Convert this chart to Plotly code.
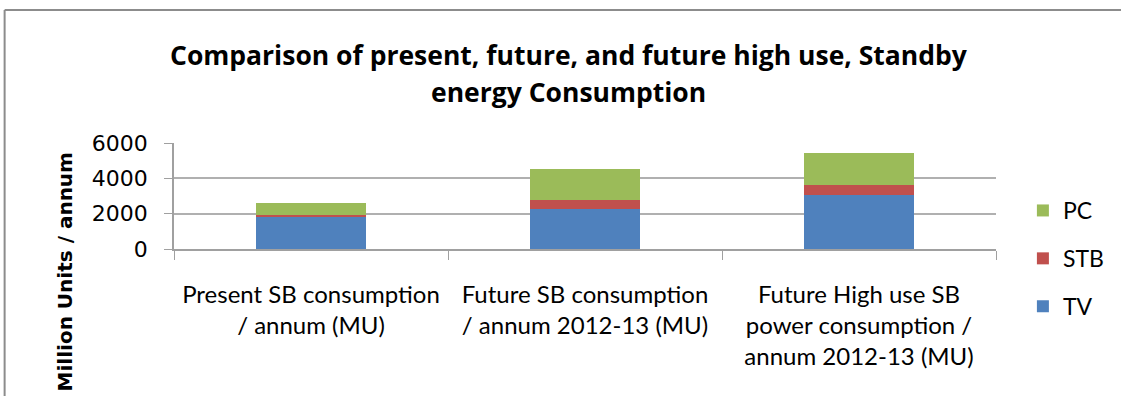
import plotly.graph_objects as go

categories = ["Present SB consumption<br>/ annum (MU)",
              "Future SB consumption<br>/ annum 2012-13 (MU)",
              "Future High use SB<br>power consumption /<br>annum 2012-13 (MU)"]
tv = [1860, 2240, 3030]
stb = [60, 520, 600]
pc = [690, 1790, 1800]
series_names = ["TV", "STB", "PC"]
colors = ["#4F81BD", "#C0504D", "#9BBB59"]
legend_rank = [3, 2, 1]
y_ticks = [0, 2000, 4000, 6000]
title_lines = ["Comparison of present, future, and future high use, Standby", "energy Consumption"]

W, H = 1121, 396
L, R, T, B = 174, 999, 143, 249


def px(xp):
    return (xp - L) / (R - L)


def py(yp):
    return (B - yp) / (B - T)


fig = go.Figure()
for name, vals, col, rk in zip(series_names, [tv, stb, pc], colors, legend_rank):
    fig.add_trace(go.Bar(x=categories, y=vals, name=name, marker_color=col,
                         marker_line_width=0, legendgroup=name, legendrank=rk, width=0.4))

fig.update_layout(
    width=W, height=H, barmode="stack",
    margin=dict(l=L, r=W - R, t=T, b=H - B, pad=0),
    paper_bgcolor="white", plot_bgcolor="white",
    font=dict(family="Lato", color="black"),
    showlegend=True,
    legend=dict(traceorder="grouped", tracegroupgap=15, x=px(1026), xanchor="left",
                y=py(189), yanchor="top", font=dict(family="Lato", size=23),
                itemwidth=30, bgcolor="rgba(0,0,0,0)", maxheight=300),
    bargap=0.6,
)
fig.update_yaxes(range=[0, 6000], tickvals=y_ticks, showgrid=True, gridcolor="#B0B0B0", gridwidth=1.5,
                 showline=True, linecolor="#A0A0A0", linewidth=1.5, ticks="outside", ticklen=8,
                 tickcolor="#A0A0A0", tickfont=dict(family="DejaVu Sans", size=22), zeroline=False,
                 ticklabelstandoff=12)
fig.update_xaxes(showline=True, linecolor="#A0A0A0", linewidth=1.5, ticks="outside", ticklen=9,
                 tickcolor="#A0A0A0", tickson="boundaries", tickfont=dict(family="Lato", size=24),
                 ticklabelstandoff=23)
for line, yp in zip(title_lines, [55, 92]):
    fig.add_annotation(text="<b>" + line + "</b>", xref="paper", yref="paper", x=px(570), y=py(yp),
                       showarrow=False, xanchor="center", yanchor="middle",
                       font=dict(family="Open Sans", size=26.5, color="black"))
fig.add_annotation(text="<b>Million Units / annum</b>", xref="paper", yref="paper",
                   x=px(65), y=py(272), textangle=-90, showarrow=False,
                   font=dict(family="DejaVu Sans", size=20), xanchor="center", yanchor="middle")
# chart frame (cropped)
fig.add_shape(type="line", xref="paper", yref="paper", x0=px(4), x1=px(W + 5),
              y0=py(10), y1=py(10), line=dict(color="#8C8C8C", width=2))
fig.add_shape(type="line", xref="paper", yref="paper", x0=px(4), x1=px(4),
              y0=py(10), y1=py(H + 5), line=dict(color="#8C8C8C", width=2))
fig.write_html("out.html")
